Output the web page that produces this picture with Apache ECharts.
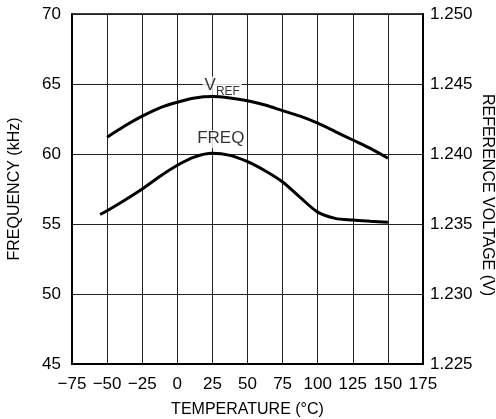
<!DOCTYPE html>
<html><head><meta charset="utf-8">
<script src="https://cdn.jsdelivr.net/npm/echarts@6/dist/echarts.min.js"></script>
<style>html,body{margin:0;padding:0;background:#fff}#c{width:496px;height:419px}</style>
</head><body><div id="c"></div>
<script>
var xTicks = [-75, -50, -25, 0, 25, 50, 75, 100, 125, 150, 175];
var freqTemps = [-55, -50, -37.5, -25, -12.5, 0, 12.5, 25, 37.5, 50, 62.5, 75, 87.5, 100, 112.5, 125, 137.5, 150];
var freqValues = [55.68, 55.95, 56.7, 57.5, 58.4, 59.2, 59.8, 60.05, 59.9, 59.45, 58.8, 58.0, 56.9, 55.85, 55.4, 55.28, 55.2, 55.13];
var vrefTemps = [-50, -37.5, -25, -12.5, 0, 12.5, 25, 37.5, 50, 62.5, 75, 87.5, 100, 112.5, 125, 137.5, 150];
var vrefValues = [1.2412, 1.2420, 1.2427, 1.2433, 1.2437, 1.2440, 1.2441, 1.2440, 1.2438, 1.2435, 1.2431, 1.2427, 1.2422, 1.2416, 1.2410, 1.2404, 1.2397];
var leftTicks = [45, 50, 55, 60, 65, 70];
var rightTicks = [1.225, 1.230, 1.235, 1.240, 1.245, 1.250];
var rightAxisTitle = 'REFERENCE VOLTAGE (V)';
var curveLabels = [
  {text: 'FREQ', x: 31, y: 61.05, axis: 0},
  {text: 'VREF', x: 32, y: 1.2449, axis: 1}
];

var FONT = "'Liberation Sans', Arial, sans-serif";
var TXT = '#000';
var chart = echarts.init(document.getElementById('c'), null, {renderer: 'canvas'});
function pairs(xs, ys){ return xs.map(function(x,i){ return [x, ys[i]]; }); }
function labelSeries(l){
  return {
    type: 'scatter', yAxisIndex: l.axis, data: [[l.x, l.y]], symbolSize: 1, silent: true,
    itemStyle: {color: 'rgba(0,0,0,0)'}, z: 5,
    label: {show: true, position: 'inside',
      formatter: l.text === 'VREF' ? '{v|V}{s|REF}' : '{v|' + l.text + '}',
      backgroundColor: '#fff', padding: [0, 2],
      rich: {v: {fontFamily: FONT, fontSize: 17, color: TXT, lineHeight: 18, verticalAlign: 'top'},
             s: {fontFamily: FONT, fontSize: 12, color: TXT, lineHeight: 18, padding: [9, 0, 0, 0], verticalAlign: 'top'}}}
  };
}
chart.setOption({
  animation: false,
  backgroundColor: '#fff',
  textStyle: {fontFamily: FONT, color: TXT},
  grid: {left: 72, right: 73, top: 14, bottom: 55, show: true, borderColor: '#000', borderWidth: 1.5,
         containLabel: false, outerBoundsMode: 'none'},
  graphic: [{
    type: 'text', x: 487, y: 195, rotation: -Math.PI / 2, silent: true,
    style: {text: rightAxisTitle, fontFamily: FONT, fontSize: 16, fill: TXT, align: 'center', verticalAlign: 'middle'}
  }],
  xAxis: {
    type: 'value', min: xTicks[0], max: xTicks[xTicks.length-1], interval: 25,
    name: 'TEMPERATURE (°C)', nameLocation: 'middle', nameGap: 38,
    nameTextStyle: {fontFamily: FONT, fontSize: 16, color: TXT},
    axisLine: {show: true, onZero: false, lineStyle: {color: '#000', width: 2}},
    axisTick: {show: false},
    axisLabel: {fontFamily: FONT, fontSize: 17, color: TXT, margin: 12,
      formatter: function(v){ return v < 0 ? '\u2212' + Math.abs(v) : String(v); }},
    splitLine: {show: true, lineStyle: {color: '#222', width: 1}}
  },
  yAxis: [{
    type: 'value', min: leftTicks[0], max: leftTicks[leftTicks.length-1], interval: 5,
    name: 'FREQUENCY (kHz)', nameLocation: 'middle', nameGap: 49,
    nameTextStyle: {fontFamily: FONT, fontSize: 16, color: TXT},
    axisLine: {show: true, onZero: false, lineStyle: {color: '#000', width: 2}},
    axisTick: {show: false},
    axisLabel: {fontFamily: FONT, fontSize: 17, color: TXT, margin: 11},
    splitLine: {show: true, lineStyle: {color: '#222', width: 1}}
  }, {
    type: 'value', position: 'right', min: rightTicks[0], max: rightTicks[rightTicks.length-1], interval: 0.005,
    axisLine: {show: true, onZero: false, lineStyle: {color: '#000', width: 2}},
    axisTick: {show: false},
    axisLabel: {fontFamily: FONT, fontSize: 17, color: TXT, margin: 7,
      formatter: function(v){ return v.toFixed(3); }},
    splitLine: {show: false}
  }],
  series: [{
    name: 'FREQ', type: 'line', yAxisIndex: 0, data: pairs(freqTemps, freqValues),
    smooth: 0.3, showSymbol: false, lineStyle: {color: '#000', width: 3}
  }, {
    name: 'VREF', type: 'line', yAxisIndex: 1, data: pairs(vrefTemps, vrefValues),
    smooth: 0.3, showSymbol: false, lineStyle: {color: '#000', width: 3}
  }].concat(curveLabels.map(labelSeries))
});
</script></body></html>
